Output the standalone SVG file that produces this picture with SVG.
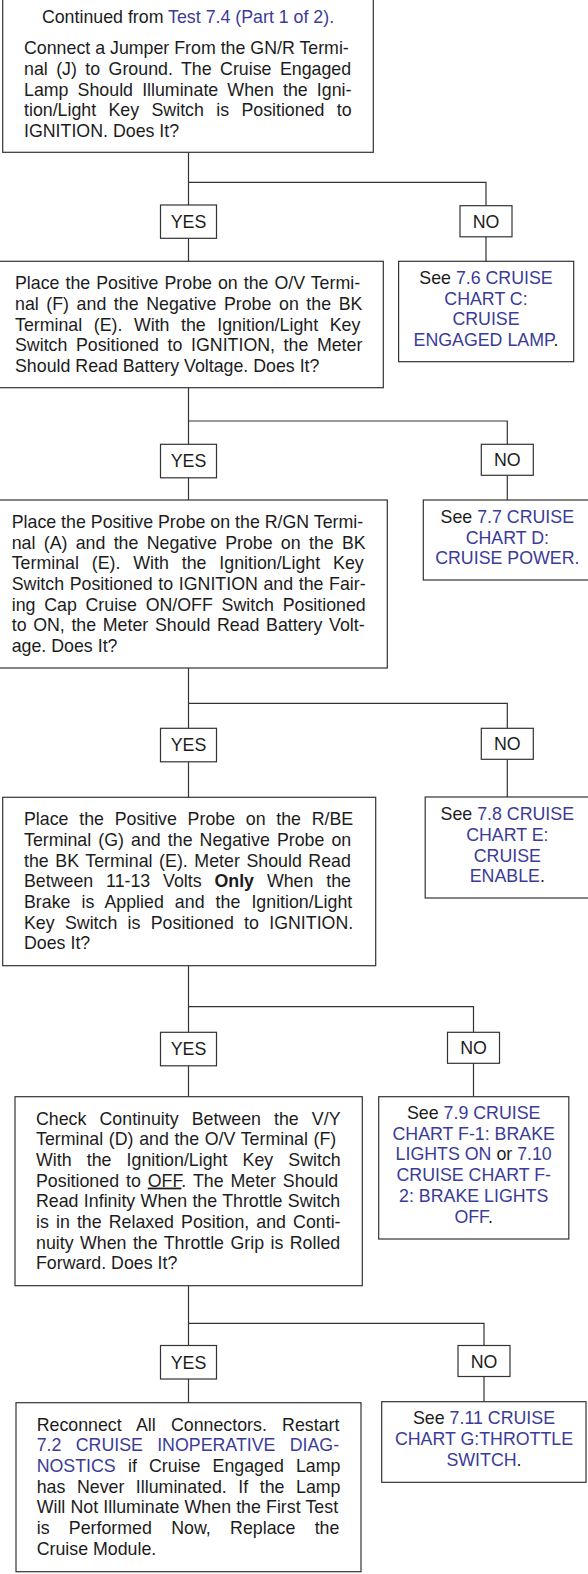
<svg xmlns="http://www.w3.org/2000/svg" width="588" height="1574" viewBox="0 0 588 1574">
<style>
.b{fill:#fff;stroke:#333;stroke-width:1.2}
.c{fill:none;stroke:#333;stroke-width:1.2}
text{font-family:"Liberation Sans",Arial,Helvetica,sans-serif;font-size:17.8px;fill:#1c1c1c}
.m{text-anchor:middle}
.l{fill:#3b3b98}
</style>
<rect width="588" height="1574" fill="#fff"/>
<g id="connectors">
<path class="c" d="M188.5 152.3V205M188.5 238.3V261.3M188.5 182.3H486V205.7M486 236.8V261.3"/>
<path class="c" d="M188.5 387.7V444.3M188.5 477.8V500M188.5 421H507.3V444.3M507.3 475.3V500"/>
<path class="c" d="M188.5 668V728.3M188.5 761.8V797.3M188.5 703.3H507.3V728.3M507.3 759.3V797"/>
<path class="c" d="M188.5 965.7V1032.3M188.5 1065.8V1096.7M188.5 1006.7H473.5V1032.3M473.5 1063.3V1096.7"/>
<path class="c" d="M188.5 1285.7V1345.5M188.5 1379V1402.7M188.5 1323.3H484V1345.5M484 1376.5V1401.7"/>
</g>
<g id="n1">
<rect class="b" x="2.7" y="-6" width="370.6" height="158.3"/>
<text class="m" x="188" y="22.5">Continued from <tspan class="l">Test 7.4 (Part 1 of 2).</tspan></text>
<text x="24" y="54.1">Connect a Jumper From the GN/R Termi-</text>
<text x="24" y="74.8" word-spacing="3.5">nal (J) to Ground. The Cruise Engaged</text>
<text x="24" y="95.5" word-spacing="4.2">Lamp Should Illuminate When the Igni-</text>
<text x="24" y="116.2" word-spacing="7.4">tion/Light Key Switch is Positioned to</text>
<text x="24" y="136.9">IGNITION. Does It?</text>
</g>
<g id="yes1"><rect class="b" x="160.5" y="205" width="56" height="33.3"/><text class="m" x="188.5" y="228">YES</text></g>
<g id="no1"><rect class="b" x="460" y="205.7" width="52" height="31.1"/><text class="m" x="486" y="227.5">NO</text></g>
<g id="n2">
<rect class="b" x="-6" y="261.3" width="389.3" height="126.4"/>
<text x="15" y="289.1" word-spacing="1.06">Place the Positive Probe on the O/V Termi-</text>
<text x="15" y="309.8" word-spacing="2.65">nal (F) and the Negative Probe on the BK</text>
<text x="15" y="330.5" word-spacing="6.6">Terminal (E). With the Ignition/Light Key</text>
<text x="15" y="351.2" word-spacing="3.66">Switch Positioned to IGNITION, the Meter</text>
<text x="15" y="371.9">Should Read Battery Voltage. Does It?</text>
</g>
<g id="t1">
<rect class="b" x="398.6" y="261.3" width="175.1" height="100.4"/>
<text class="m" x="486" y="284">See <tspan class="l">7.6 CRUISE</tspan></text>
<text class="m l" x="486" y="304.7">CHART C:</text>
<text class="m l" x="486" y="325.4">CRUISE</text>
<text class="m" x="486" y="346.1"><tspan class="l">ENGAGED LAMP</tspan>.</text>
</g>
<g id="yes2"><rect class="b" x="160.5" y="444.3" width="56" height="33.5"/><text class="m" x="188.5" y="467.3">YES</text></g>
<g id="no2"><rect class="b" x="481.3" y="444.3" width="52" height="31"/><text class="m" x="507.3" y="466.3">NO</text></g>
<g id="n3">
<rect class="b" x="-10" y="500" width="397.3" height="168"/>
<text x="11.7" y="527.8">Place the Positive Probe on the R/GN Termi-</text>
<text x="11.7" y="548.5" word-spacing="3.35">nal (A) and the Negative Probe on the BK</text>
<text x="11.7" y="569.2" word-spacing="7.94">Terminal (E). With the Ignition/Light Key</text>
<text x="11.7" y="589.9" word-spacing="0.68">Switch Positioned to IGNITION and the Fair-</text>
<text x="11.7" y="610.6" word-spacing="3.8">ing Cap Cruise ON/OFF Switch Positioned</text>
<text x="11.7" y="631.3" word-spacing="1.71">to ON, the Meter Should Read Battery Volt-</text>
<text x="11.7" y="652">age. Does It?</text>
</g>
<g id="t2">
<rect class="b" x="423.3" y="500" width="170" height="80"/>
<text class="m" x="507.3" y="523">See <tspan class="l">7.7 CRUISE</tspan></text>
<text class="m l" x="507.3" y="543.7">CHART D:</text>
<text class="m l" x="507.3" y="564.4">CRUISE POWER.</text>
</g>
<g id="yes3"><rect class="b" x="160.5" y="728.3" width="56" height="33.5"/><text class="m" x="188.5" y="751.3">YES</text></g>
<g id="no3"><rect class="b" x="481.3" y="728.3" width="52" height="31"/><text class="m" x="507.3" y="750.3">NO</text></g>
<g id="n4">
<rect class="b" x="2.7" y="797.3" width="373" height="168.4"/>
<text x="24" y="825.1" word-spacing="5.78">Place the Positive Probe on the R/BE</text>
<text x="24" y="845.8" word-spacing="2.15">Terminal (G) and the Negative Probe on</text>
<text x="24" y="866.5" word-spacing="1.66">the BK Terminal (E). Meter Should Read</text>
<text x="24" y="887.2" word-spacing="7.92">Between 11-13 Volts <tspan font-weight="bold">Only</tspan> When the</text>
<text x="24" y="907.9" word-spacing="6.14">Brake is Applied and the Ignition/Light</text>
<text x="24" y="928.6" word-spacing="5.36">Key Switch is Positioned to IGNITION.</text>
<text x="24" y="949.3">Does It?</text>
</g>
<g id="t3">
<rect class="b" x="425.2" y="797" width="170" height="101"/>
<text class="m" x="507.3" y="820.3">See <tspan class="l">7.8 CRUISE</tspan></text>
<text class="m l" x="507.3" y="841">CHART E:</text>
<text class="m l" x="507.3" y="861.7">CRUISE</text>
<text class="m" x="507.3" y="882.4"><tspan class="l">ENABLE</tspan>.</text>
</g>
<g id="yes4"><rect class="b" x="160.5" y="1032.3" width="56" height="33.5"/><text class="m" x="188.5" y="1055.3">YES</text></g>
<g id="no4"><rect class="b" x="447.5" y="1032.3" width="52" height="31"/><text class="m" x="473.5" y="1054.3">NO</text></g>
<g id="n5">
<rect class="b" x="15" y="1096.7" width="347.3" height="189"/>
<text x="36" y="1124.5" word-spacing="8.18">Check Continuity Between the V/Y</text>
<text x="36" y="1145.2" word-spacing="0.69">Terminal (D) and the O/V Terminal (F)</text>
<text x="36" y="1165.9" word-spacing="10.2">With the Ignition/Light Key Switch</text>
<text x="36" y="1186.6" word-spacing="2">Positioned to <tspan text-decoration="underline">OFF</tspan>. The Meter Should</text>
<text x="36" y="1207.3" word-spacing="0.42">Read Infinity When the Throttle Switch</text>
<text x="36" y="1228" word-spacing="2.16">is in the Relaxed Position, and Conti-</text>
<text x="36" y="1248.7" word-spacing="1.5">nuity When the Throttle Grip is Rolled</text>
<text x="36" y="1269.4">Forward. Does It?</text>
</g>
<g id="t4">
<rect class="b" x="378.7" y="1096.7" width="190.1" height="142.3"/>
<text class="m" x="473.7" y="1119">See <tspan class="l">7.9 CRUISE</tspan></text>
<text class="m l" x="473.7" y="1139.7">CHART F-1: BRAKE</text>
<text class="m" x="473.7" y="1160.4"><tspan class="l">LIGHTS ON</tspan> or <tspan class="l">7.10</tspan></text>
<text class="m l" x="473.7" y="1181.1">CRUISE CHART F-</text>
<text class="m l" x="473.7" y="1201.8">2: BRAKE LIGHTS</text>
<text class="m" x="473.7" y="1222.5"><tspan class="l">OFF</tspan>.</text>
</g>
<g id="yes5"><rect class="b" x="160.5" y="1345.5" width="56" height="33.5"/><text class="m" x="188.5" y="1368.5">YES</text></g>
<g id="no5"><rect class="b" x="458" y="1345.5" width="52" height="31"/><text class="m" x="484" y="1367.5">NO</text></g>
<g id="n6">
<rect class="b" x="16" y="1402.7" width="345" height="169"/>
<text x="36.7" y="1430.5" word-spacing="10.3">Reconnect All Connectors. Restart</text>
<text class="l" x="36.7" y="1451.2" word-spacing="9.35">7.2 CRUISE INOPERATIVE DIAG-</text>
<text x="36.7" y="1471.9" word-spacing="7.25"><tspan class="l">NOSTICS</tspan> if Cruise Engaged Lamp</text>
<text x="36.7" y="1492.6" word-spacing="6.6">has Never Illuminated. If the Lamp</text>
<text x="36.7" y="1513.3" word-spacing="0.22">Will Not Illuminate When the First Test</text>
<text x="36.7" y="1534" word-spacing="14.4">is Performed Now, Replace the</text>
<text x="36.7" y="1554.7">Cruise Module.</text>
</g>
<g id="t5">
<rect class="b" x="381.7" y="1401.7" width="204.3" height="80.6"/>
<text class="m" x="484" y="1424">See <tspan class="l">7.11 CRUISE</tspan></text>
<text class="m l" x="484" y="1445">CHART G:THROTTLE</text>
<text class="m" x="484" y="1465.7"><tspan class="l">SWITCH</tspan>.</text>
</g>
</svg>
